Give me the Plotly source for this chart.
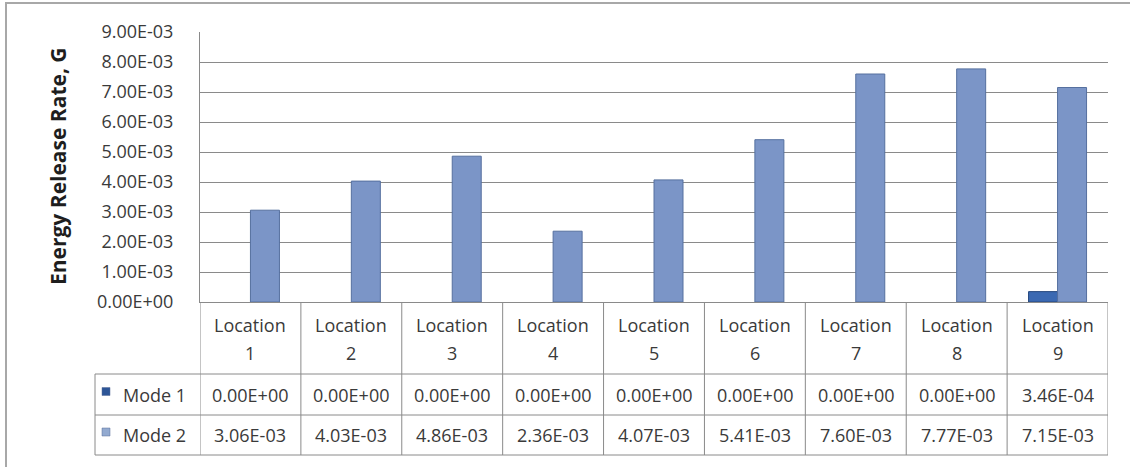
import plotly.graph_objects as go

# ---------------- data ----------------
categories = ["Location 1", "Location 2", "Location 3", "Location 4", "Location 5",
              "Location 6", "Location 7", "Location 8", "Location 9"]
series_names = ["Mode 1", "Mode 2"]
mode1 = [0.0, 0.0, 0.0, 0.0, 0.0, 0.0, 0.0, 0.0, 3.46e-4]
mode2 = [3.06e-3, 4.03e-3, 4.86e-3, 2.36e-3, 4.07e-3, 5.41e-3, 7.60e-3, 7.77e-3, 7.15e-3]
y_ticks = [0.0, 0.001, 0.002, 0.003, 0.004, 0.005, 0.006, 0.007, 0.008, 0.009]
y_title = "Energy Release Rate, G"

# ---------------- style ----------------
W, H = 1130, 467
ML, MR, MT, MB = 200, 22, 32, 12
PW, PH = W - ML - MR, H - MT - MB
FONT = "Open Sans"
FS = 18
TXT = "#3a3a3a"
GRID = "#8a8a8a"
colors = ["#3b69b2", "#7b95c7"]
edge = ["#24477e", "#56709f"]
key_colors = ["#2d5597", "#93aad0"]

def py(pix):  # pixel y (from top) -> paper y
    return (H - MB - pix) / PH

def px(pix):  # pixel x -> paper x
    return (pix - ML) / PW

y_zero = py(302)
row_hdr = py(374)
row_m1 = py(415)
row_m2 = py(455)
leg_left = px(95)

fig = go.Figure()
for name, vals, c, e in zip(series_names, [mode1, mode2], colors, edge):
    fig.add_trace(go.Bar(x=categories, y=vals, name=name,
                         marker=dict(color=c, line=dict(color=e,
                                     width=[1 if v > 0 else 0 for v in vals]))))

shapes = []
line = dict(color=GRID, width=1)
# vertical table lines
for i in range(len(categories) + 1):
    shapes.append(dict(type="line", xref="x", yref="paper", x0=i - 0.5, x1=i - 0.5,
                       y0=row_m2, y1=y_zero, line=line))
# horizontal table lines
for yv in [row_hdr, row_m1, row_m2]:
    shapes.append(dict(type="line", xref="paper", yref="paper", x0=leg_left, x1=1,
                       y0=yv, y1=yv, line=line))
shapes.append(dict(type="line", xref="paper", yref="paper", x0=leg_left, x1=leg_left,
                   y0=row_m2, y1=row_hdr, line=line))
# legend keys
row_centers = [(row_hdr + row_m1) / 2, (row_m1 + row_m2) / 2]
for k, (rc, kc) in enumerate(zip(row_centers, key_colors)):
    yc = H - MB - rc * PH - 3
    shapes.append(dict(type="rect", xref="paper", yref="paper",
                       x0=px(102), x1=px(110), y0=py(yc + 4), y1=py(yc - 4),
                       fillcolor=kc, line=dict(color="#5a6f98", width=0.5)))
# outer chart border
shapes.append(dict(type="rect", xref="paper", yref="paper",
                   x0=px(6), x1=px(1140), y0=py(480), y1=py(3),
                   line=dict(color="#a8a8a8", width=2), fillcolor="rgba(0,0,0,0)"))

tf = dict(family=FONT, size=FS, color=TXT)
ann = []
for i, cat in enumerate(categories):
    word, num = cat.split(" ")
    ann.append(dict(x=i, xref="x", yref="paper", y=py(325), text=word, showarrow=False,
                    xanchor="center", yanchor="middle", font=tf))
    ann.append(dict(x=i, xref="x", yref="paper", y=py(353), text=num, showarrow=False,
                    xanchor="center", yanchor="middle", font=tf))
    for vals, rc in zip([mode1, mode2], row_centers):
        ann.append(dict(x=i, xref="x", yref="paper", y=rc, text=f"{vals[i]:.2E}",
                        showarrow=False, xanchor="center", yanchor="middle", font=tf))
for name, rc in zip(series_names, row_centers):
    ann.append(dict(x=px(121), xref="paper", yref="paper", y=rc, text=name,
                    xanchor="left", yanchor="middle", showarrow=False, font=tf))
ann.append(dict(x=px(58), xref="paper", yref="paper", y=py(166), text=f"<b>{y_title}</b>",
                textangle=-90, showarrow=False, xanchor="center", yanchor="middle",
                font=dict(family=FONT, size=21, color="#1e1e1e")))

fig.update_layout(
    width=W, height=H,
    margin=dict(l=ML, r=MR, t=MT, b=MB, pad=0, autoexpand=False),
    paper_bgcolor="white", plot_bgcolor="white",
    barmode="group", bargap=0.425, bargroupgap=0,
    showlegend=False,
    shapes=shapes, annotations=ann,
    xaxis=dict(type="category", range=[-0.5, len(categories) - 0.5], automargin=False,
               showticklabels=False, showgrid=False, zeroline=False,
               showline=True, linecolor=GRID, linewidth=1, ticks=""),
    yaxis=dict(domain=[y_zero, 1], range=[0, y_ticks[-1]], automargin=False,
               tickvals=y_ticks, ticktext=[f"{v:.2E}" for v in y_ticks],
               showgrid=True, gridcolor=GRID, gridwidth=1, zeroline=False,
               showline=True, linecolor=GRID, linewidth=1, ticks="",
               ticklabelstandoff=22, tickfont=tf),
)

fig.write_html("out.html")
